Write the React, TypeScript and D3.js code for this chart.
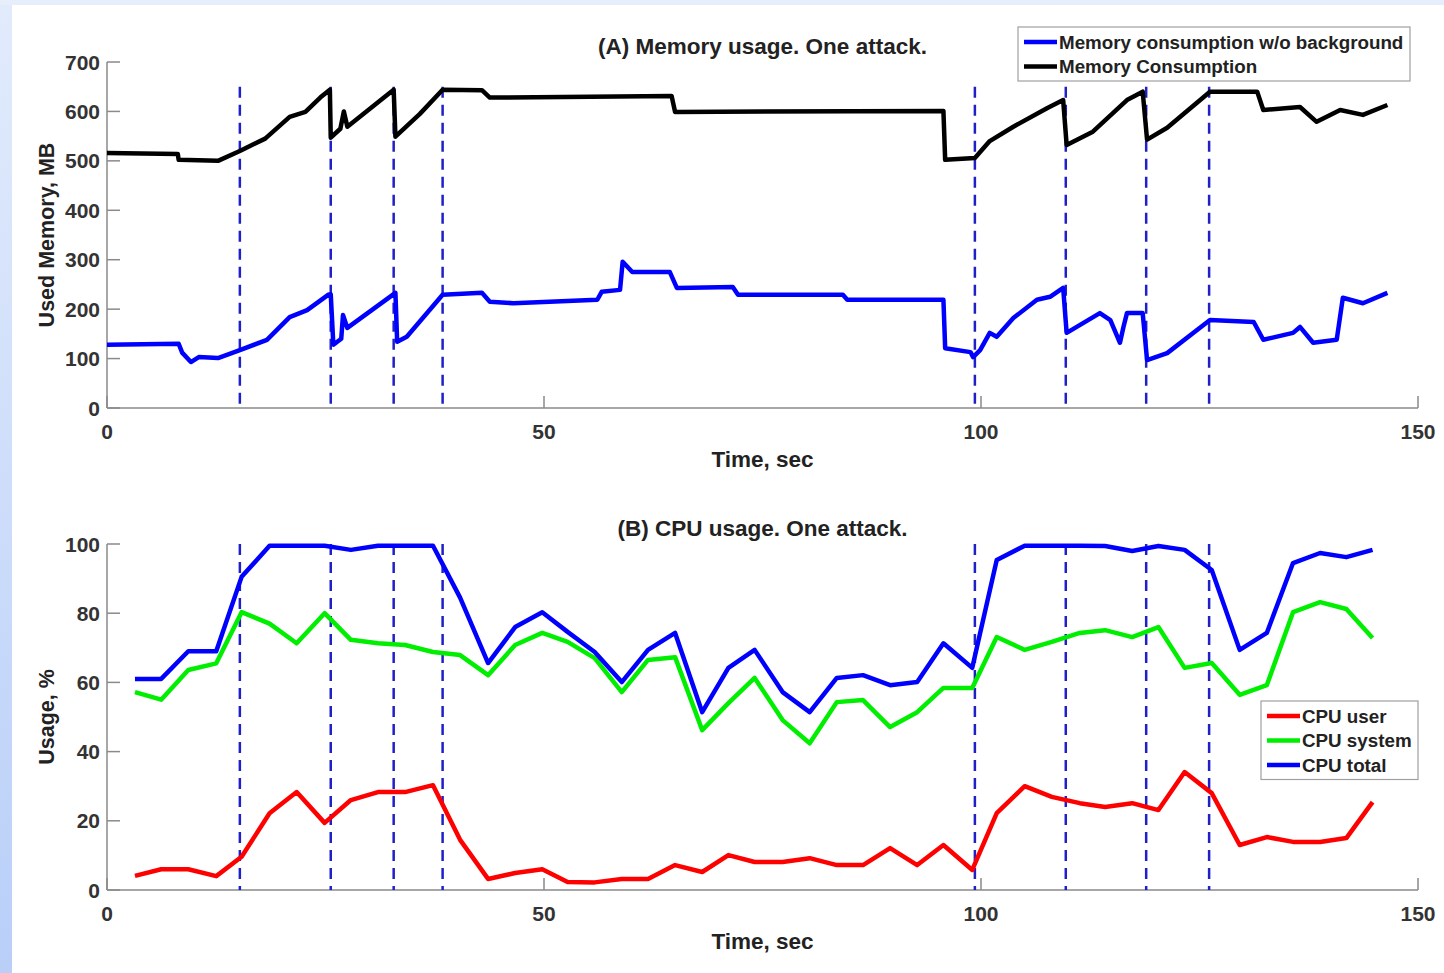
import React from 'react';
import * as d3 from 'd3';

// attack start moments (dashed markers), seconds
const attackTimes = [15.2, 25.6, 32.8, 38.4, 99.3, 109.7, 118.9, 126.1];

// (A) memory, total consumption
const memTotalTime = [
  0, 8.1, 8.2, 12.7, 15.2, 18.1, 20.9, 22.7, 24.4, 25.5, 25.6, 26.7, 27.1, 27.5,
  32.8, 33.0, 35.8, 38.4, 42.9, 43.8, 64.6, 65.0, 95.7, 95.9, 99.3, 101.0, 103.7,
  107.6, 109.4, 109.8, 112.8, 116.7, 118.5, 119.0, 121.3, 126.2, 131.6, 132.3,
  136.5, 138.4, 141.1, 143.7, 146.5,
];
const memTotal = [
  516, 514, 502, 500, 520, 545, 589, 599, 628, 644, 547, 565, 600, 569,
  644, 549, 595, 644, 643, 628, 631, 599, 601, 502, 506, 540, 569,
  607, 623, 532, 559, 623, 640, 543, 567, 640, 640, 603,
  609, 579, 603, 593, 613,
];

// (A) memory without background
const memNoBgTime = [
  0, 8.2, 8.6, 9.6, 10.5, 12.7, 15.2, 18.3, 20.9, 22.9, 25.3, 25.6, 25.9, 26.8,
  27.0, 27.5, 33.0, 33.2, 34.3, 38.4, 42.9, 43.8, 46.5, 56.1, 56.6, 58.7, 59.0,
  60.1, 64.4, 65.2, 71.6, 72.2, 84.2, 84.7, 95.7, 95.9, 98.8, 99.1, 99.9, 101.0,
  101.8, 103.7, 106.4, 107.9, 109.4, 109.8, 113.6, 114.8, 115.9, 116.3, 116.7,
  118.5, 119.0, 121.3, 126.2, 131.2, 132.3, 135.7, 136.5, 138.0, 140.7, 141.4,
  143.7, 146.5,
];
const memNoBg = [
  128, 130, 112, 93, 103, 101, 117, 138, 184, 198, 229, 230, 128, 140,
  188, 162, 233, 134, 144, 229, 233, 215, 212, 219, 235, 239, 296,
  275, 275, 243, 245, 229, 229, 219, 219, 121, 113, 103, 117, 152,
  144, 182, 219, 225, 243, 152, 192, 178, 132, 164, 192,
  192, 97, 111, 178, 174, 138, 152, 164, 132, 138, 223,
  212, 233,
];

// (B) CPU samples
const cpuTime = [
  3.2, 6.2, 9.3, 12.5, 15.4, 18.6, 21.7, 24.9, 27.9, 31.0, 34.1, 37.3, 40.4, 43.6,
  46.7, 49.8, 52.7, 55.8, 58.9, 61.9, 65.0, 68.1, 71.1, 74.1, 77.3, 80.4, 83.5,
  86.5, 89.6, 92.7, 95.7, 99.0, 101.8, 105.0, 108.1, 111.3, 114.2, 117.3, 120.3,
  123.3, 126.4, 129.6, 132.7, 135.7, 138.8, 141.8, 144.8,
];
const cpuUser = [
  4.1, 6, 6, 4, 9.6, 22.2, 28.3, 19.4, 26, 28.3, 28.3, 30.3, 14.5, 3.2,
  4.9, 6, 2.3, 2.2, 3.2, 3.2, 7.2, 5.2, 10.1, 8.1, 8.1, 9.2, 7.2,
  7.2, 12.1, 7.2, 13, 5.8, 22.2, 30, 26.9, 25.1, 24, 25.1, 23.1,
  34.1, 28, 13, 15.3, 13.9, 13.9, 15, 25.4,
];
const cpuSystem = [
  57.2, 55, 63.6, 65.5, 80.3, 77, 71.3, 80, 72.3, 71.3, 70.8, 68.8, 67.9, 62.1,
  70.8, 74.3, 71.7, 67, 57.2, 66.5, 67.3, 46.2, 54, 61.3, 49.1, 42.4, 54.3,
  54.9, 47.1, 51.4, 58.4, 58.4, 73.1, 69.4, 71.7, 74.3, 75.1, 73.1, 76,
  64.2, 65.6, 56.4, 59.2, 80.3, 83.2, 81.2, 72.8,
];
const cpuTotal = [
  61, 61, 69, 69, 90.5, 99.5, 99.5, 99.5, 98.3, 99.5, 99.5, 99.5, 84.5, 65.6,
  76, 80.3, 74.6, 68.8, 60.1, 69.4, 74.3, 51.4, 64.2, 69.4, 57.2, 51.4, 61.3,
  62.1, 59.2, 60.1, 71.3, 64.2, 95.4, 99.5, 99.5, 99.5, 99.4, 98, 99.4,
  98.3, 92.5, 69.4, 74.3, 94.5, 97.4, 96.2, 98.3,
];

const xTicks = [0, 50, 100, 150];
const memTicks = [0, 100, 200, 300, 400, 500, 600, 700];
const cpuTicks = [0, 20, 40, 60, 80, 100];

const W = 1444;
const H = 973;
const FONT = '"Liberation Sans", Arial, sans-serif';
const TXT = '#222';
const AXIS = '#8a8a8a';

type Series = { name: string; color: string; t: number[]; v: number[] };

const Panel = ({ title, ylabel, yDomain, yRange, yTicks, series, dashTop, legend }: {
  title: string; ylabel: string; yDomain: [number, number]; yRange: [number, number];
  yTicks: number[]; series: Series[]; dashTop: number;
  legend: { x: number; y: number; w: number; items: Series[] };
}) => {
  const x = d3.scaleLinear().domain([0, 150]).range([107, 1418]);
  const y = d3.scaleLinear().domain(yDomain).range(yRange);
  const y0 = y(yDomain[0]);
  const mid = (x.range()[0] + x.range()[1]) / 2;
  const lineGen = (s: Series) =>
    d3.line<number>().x((_, i) => x(s.t[i])).y(d => y(d))(s.v) || '';

  return (
    <g>
      <text x={mid} y={y(yDomain[1]) - 16} textAnchor="middle" dominantBaseline="central"
        fontSize={22.5} fontWeight="bold" fill={TXT}>{title}</text>
      {/* axes */}
      <line x1={x(0)} x2={x(150)} y1={y0} y2={y0} stroke={AXIS} strokeWidth={1.5} />
      <line x1={x(0)} x2={x(0)} y1={y0} y2={y(yDomain[1])} stroke={AXIS} strokeWidth={1.5} />
      {xTicks.map(t => (
        <g key={'x' + t}>
          <line x1={x(t)} x2={x(t)} y1={y0} y2={y0 - 12} stroke={AXIS} strokeWidth={1.5} />
          <text x={x(t)} y={y0 + 23} textAnchor="middle" dominantBaseline="central"
            fontSize={21} fontWeight="bold" fill="#333">{t}</text>
        </g>
      ))}
      {yTicks.map(t => (
        <g key={'y' + t}>
          <line x1={x(0)} x2={x(0) + 13} y1={y(t)} y2={y(t)} stroke={AXIS} strokeWidth={1.5} />
          <text x={100} y={y(t)} textAnchor="end" dominantBaseline="central"
            fontSize={21} fontWeight="bold" fill="#333">{t}</text>
        </g>
      ))}
      <text x={mid} y={y0 + 51} textAnchor="middle" dominantBaseline="central"
        fontSize={22.5} fontWeight="bold" fill={TXT}>Time, sec</text>
      <text transform={`translate(47,${(y0 + y(yDomain[1])) / 2}) rotate(-90)`} textAnchor="middle"
        dominantBaseline="central" fontSize={21.5} fontWeight="bold" fill={TXT}>{ylabel}</text>

      {attackTimes.map(t => (
        <line key={'a' + t} x1={x(t)} x2={x(t)} y1={y(dashTop)} y2={y0}
          stroke="#2020c8" strokeWidth={2.5} strokeDasharray="11,7" />
      ))}

      {series.map(s => (
        <path key={s.name} d={lineGen(s)} fill="none" stroke={s.color} strokeWidth={4.5}
          strokeLinejoin="round" />
      ))}

      <rect x={legend.x} y={legend.y} width={legend.w} height={legend.items.length * 24.5 + 5}
        fill="#fff" stroke="#a0a0a0" strokeWidth={1.2} />
      {legend.items.map((s, i) => {
        const ly = legend.y + 15 + i * 24.5;
        return (
          <g key={'l' + s.name}>
            <line x1={legend.x + 6} x2={legend.x + 39} y1={ly} y2={ly} stroke={s.color} strokeWidth={4.5} />
            <text x={legend.x + 41} y={ly} dominantBaseline="central" fontSize={18.8}
              fontWeight="bold" fill={TXT}>{s.name}</text>
          </g>
        );
      })}
    </g>
  );
};

const App = () => {
  const memSeries: Series[] = [
    { name: 'Memory consumption w/o background', color: '#0000ff', t: memNoBgTime, v: memNoBg },
    { name: 'Memory Consumption', color: '#000000', t: memTotalTime, v: memTotal },
  ];
  const cpuSeries: Series[] = [
    { name: 'CPU user', color: '#ff0000', t: cpuTime, v: cpuUser },
    { name: 'CPU system', color: '#00ee00', t: cpuTime, v: cpuSystem },
    { name: 'CPU total', color: '#0000ff', t: cpuTime, v: cpuTotal },
  ];

  return (
    <svg width={W} height={H} style={{ position: 'absolute', left: 0, top: 0 }} fontFamily={FONT}>
      <defs>
        <linearGradient id="side" x1="0" y1="0" x2="0" y2="1">
          <stop offset="0" stopColor="#e2ebfc" />
          <stop offset="1" stopColor="#b9cff8" />
        </linearGradient>
      </defs>
      <rect width={W} height={H} fill="url(#side)" />
      <rect x={0} y={0} width={W} height={5} fill="#e6eefc" />
      <rect x={12} y={5} width={W - 12} height={H - 5} fill="#fff" />
      <Panel title="(A) Memory usage. One attack." ylabel="Used Memory, MB"
        yDomain={[0, 700]} yRange={[408, 62]} yTicks={memTicks} series={memSeries} dashTop={650}
        legend={{ x: 1018, y: 27, w: 392, items: memSeries }} />
      <Panel title="(B) CPU usage. One attack." ylabel="Usage, %"
        yDomain={[0, 100]} yRange={[890, 544]} yTicks={cpuTicks} series={cpuSeries} dashTop={100}
        legend={{ x: 1261, y: 701, w: 157, items: cpuSeries }} />
    </svg>
  );
};

export default App;
